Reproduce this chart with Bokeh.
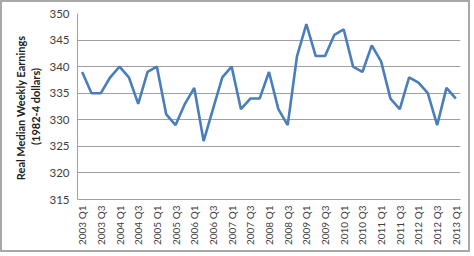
import math
from bokeh.plotting import figure
from bokeh.models import FixedTicker, Range1d
from bokeh.embed import file_html
from bokeh.resources import INLINE

quarters = [f"{y} Q{q}" for y in range(2003, 2013) for q in range(1, 5)] + ["2013 Q1"]
earnings = [339, 335, 335, 338, 340, 338, 333, 339, 340, 331, 329, 333, 336, 326, 332, 338, 340,
            332, 334, 334, 339, 332, 329, 342, 348, 342, 342, 346, 347, 340, 339, 344, 341,
            334, 332, 338, 337, 335, 329, 336, 334]
y_ticks = [315, 320, 325, 330, 335, 340, 345, 350]
y_label = "Real Median  Weekly Earnings\n(1982-4 dollars)"

xs = list(range(len(quarters)))
shown = [i for i in xs if i % 2 == 0]

p = figure(width=470, height=252, output_backend="svg", toolbar_location=None,
           x_range=Range1d(-0.5, len(quarters) - 0.5), y_range=Range1d(315, 350),
           min_border_left=75, min_border_right=12, min_border_top=11, min_border_bottom=55)
p.styles = {"border": "2px solid #a8a8a8"}
p.outline_line_color = None
p.background_fill_color = "white"
p.border_fill_color = "white"

p.line(xs, earnings, line_color="#4A7EBB", line_width=2.6)

font = "Lato"
p.xaxis.ticker = FixedTicker(ticks=shown)
p.xaxis.major_label_overrides = {i: quarters[i] for i in shown}
p.xaxis.major_label_orientation = math.pi / 2
p.xaxis.major_label_text_font = font
p.xaxis.major_label_text_font_size = "10px"
p.xaxis.major_label_text_color = "#404040"
p.xaxis.major_tick_line_color = None
p.xaxis.major_tick_out = 0
p.xaxis.major_label_standoff = 6
p.xaxis.minor_tick_line_color = None
p.xaxis.axis_line_color = "#a0a0a0"

p.yaxis.ticker = FixedTicker(ticks=y_ticks)
p.yaxis.major_label_text_font = font
p.yaxis.major_label_text_font_size = "11.5px"
p.yaxis.major_label_text_color = "#404040"
p.yaxis.major_tick_line_color = None
p.yaxis.major_tick_out = 0
p.yaxis.major_label_standoff = 8
p.yaxis.minor_tick_line_color = None
p.yaxis.axis_line_color = "#a0a0a0"
p.yaxis.axis_label = y_label
p.yaxis.axis_label_text_font = font
p.yaxis.axis_label_text_font_style = "bold"
p.yaxis.axis_label_text_font_size = "11px"
p.yaxis.axis_label_text_color = "#202020"
p.yaxis.axis_label_standoff = 4

p.xgrid.grid_line_color = None
p.ygrid.grid_line_color = "#a0a0a0"
p.ygrid.grid_line_width = 1

open("out.html", "w").write(file_html(p, INLINE))
